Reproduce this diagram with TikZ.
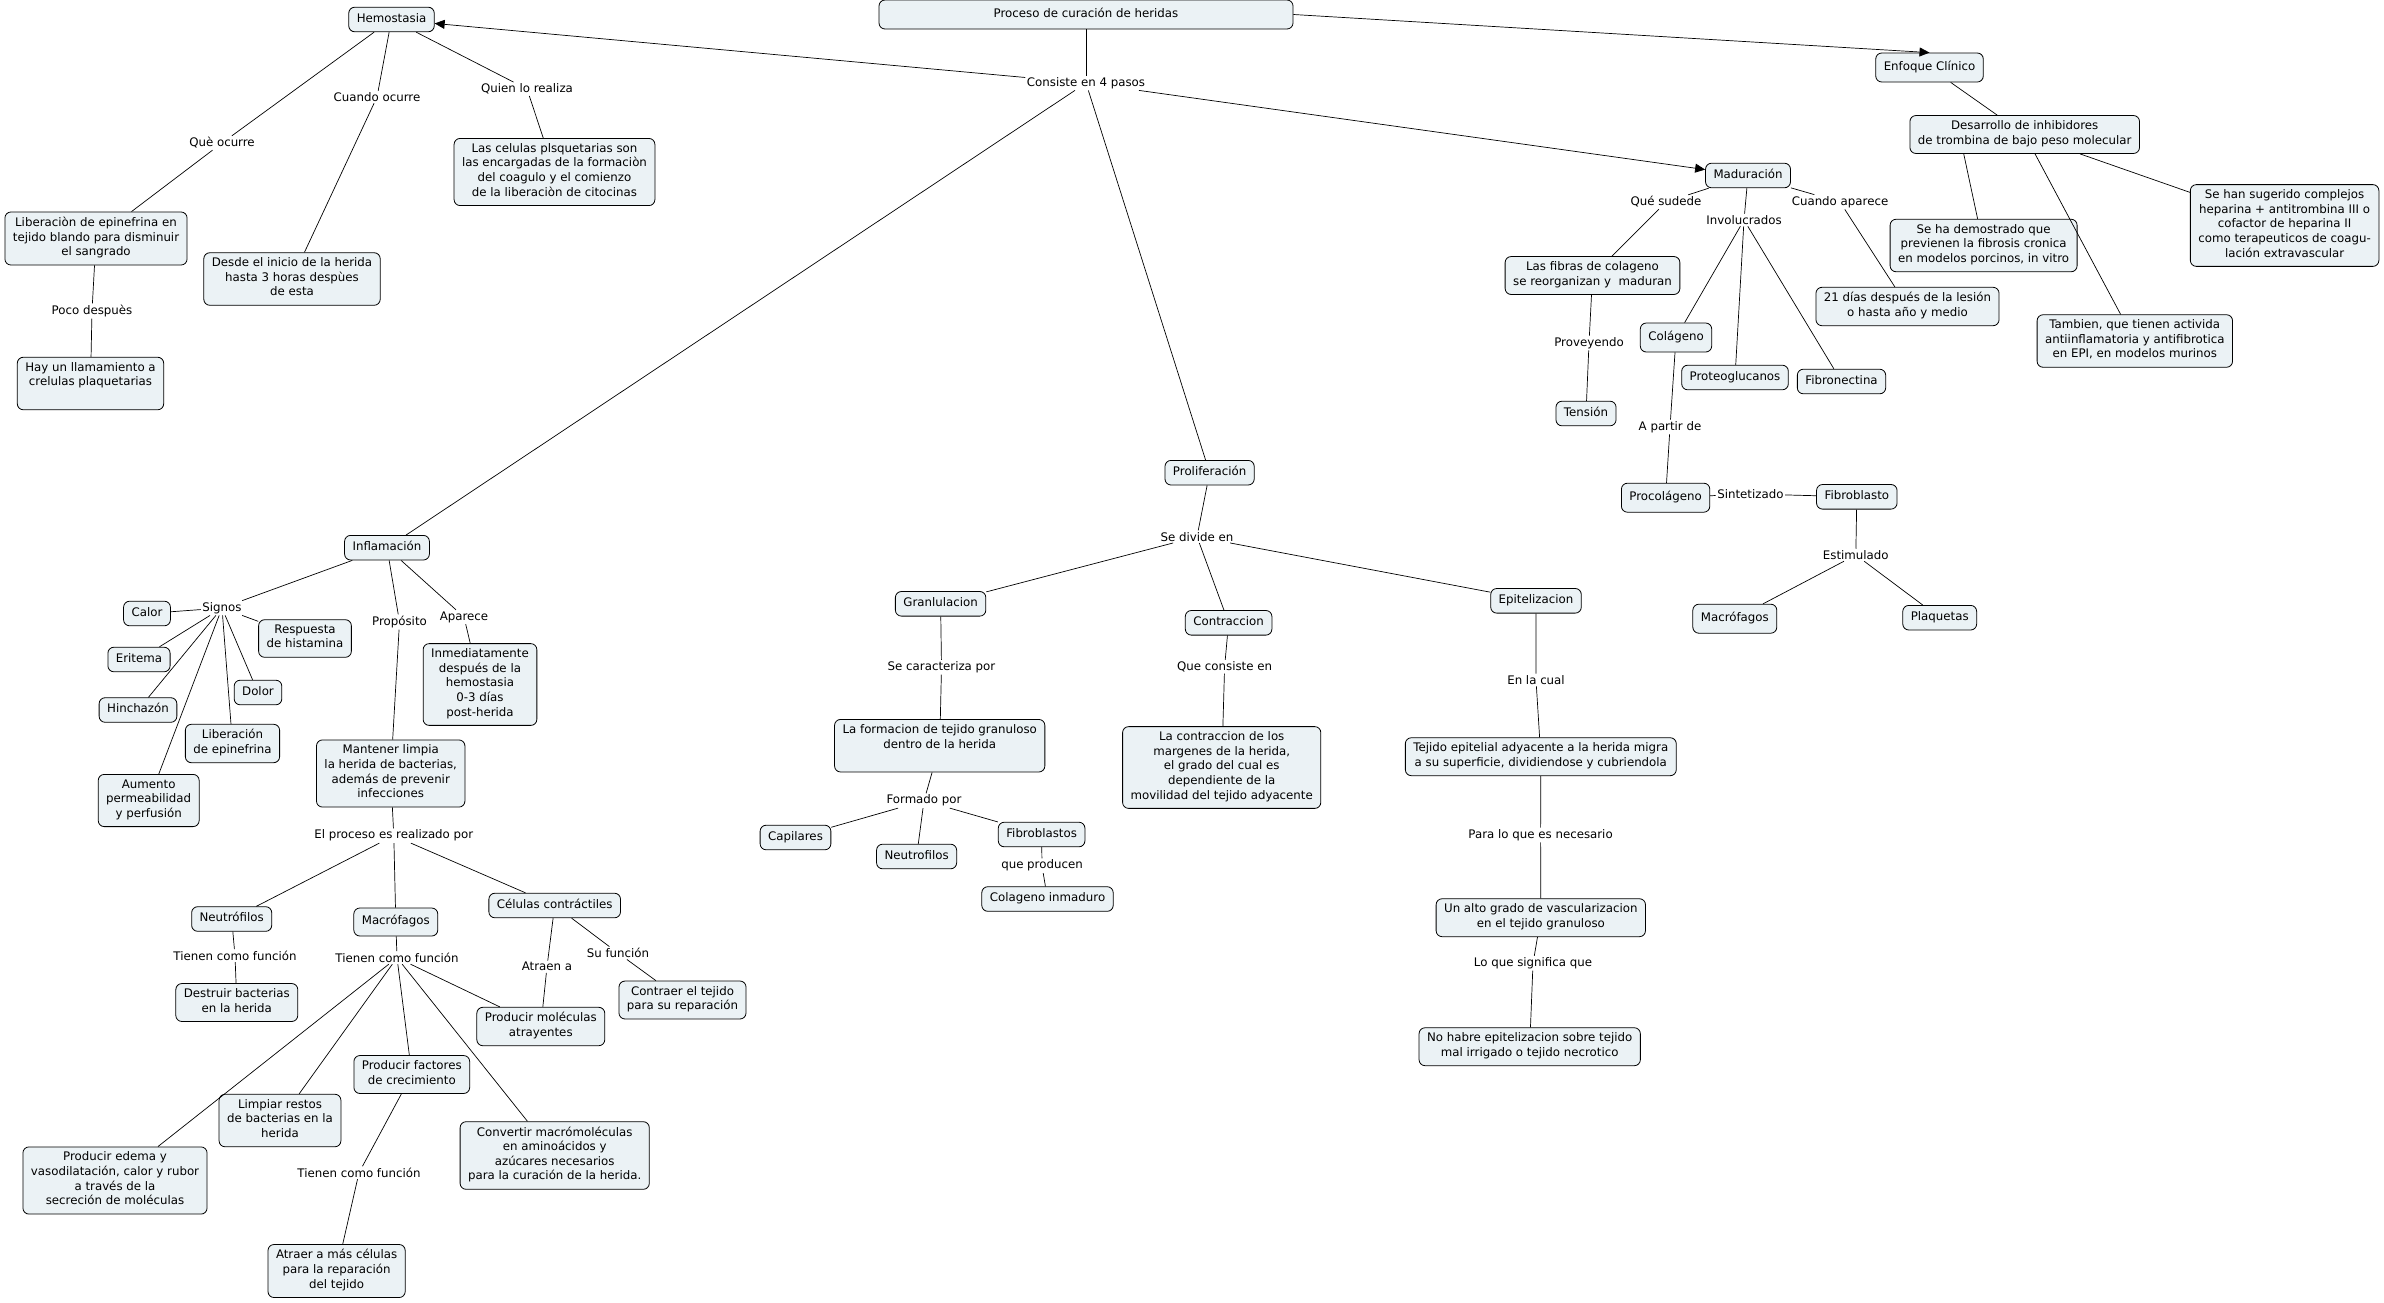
\documentclass[tikz,border=0pt]{standalone}
\usepackage{fontspec}
\setmainfont{DejaVu Sans}
\usetikzlibrary{arrows.meta}
\definecolor{conceptfill}{RGB}{235,242,245}

\begin{document}
\begin{tikzpicture}[x=1pt,y=-1pt,
  every node/.style={font=\fontsize{11.8pt}{14.6pt}\selectfont, align=center},
  concept/.style={draw, line width=0.8pt, rounded corners=6pt, fill=conceptfill,
    inner xsep=8pt, inner ysep=5pt, execute at begin node=\strut, execute at end node=\strut},
  link/.style={inner sep=1.5pt},
  conn/.style={line width=0.7pt},
  arr/.style={conn, -{Triangle[length=10pt,width=9pt]}}]
\useasboundingbox (0,0) rectangle (2384,1302);

\node[concept, minimum width=414pt, minimum height=29pt] (title) at (1086,14.5) {Proceso de curación de heridas};
\node[link] (consiste) at (1086,83) {Consiste en 4 pasos};

\node[concept] (hemo) at (391.5,19.5) {Hemostasia};
\node[link] (queocurre) at (222,143) {Què ocurre};
\node[link] (cuandoocurre) at (377,97) {Cuando ocurre};
\node[link] (quien) at (527,89) {Quien lo realiza};
\node[concept] (liberacion) at (96,238.5) {Liberaciòn de epinefrina en\\ tejido blando para disminuir\\ el sangrado};
\node[concept] (desde) at (292,279) {Desde el inicio de la herida\\ hasta 3 horas despùes\\ de esta};
\node[concept] (plaqcel) at (554.5,172) {Las celulas plsquetarias son\\ las encargadas de la formaciòn\\ del coagulo y el comienzo\\ de la liberaciòn de citocinas};
\node[link] (poco) at (92,311) {Poco despuès};
\node[concept] (hayun) at (90.5,383.5) {Hay un llamamiento a\\ crelulas plaquetarias\\};

\node[concept, minimum height=29pt] (enfoque) at (1929.5,67.5) {Enfoque Clínico};
\node[concept] (desarrollo) at (2024.7,134.5) {Desarrollo de inhibidores\\ de trombina de bajo peso molecular};
\node[concept] (sedemo) at (1983.6,245.5) {Se ha demostrado que\\ previenen la fibrosis cronica\\ en modelos porcinos, in vitro};
\node[concept] (tambien) at (2134.8,341) {Tambien, que tienen activida\\ antiinflamatoria y antifibrotica\\ en EPI, en modelos murinos};
\node[concept] (sugerido) at (2284.6,225.5) {Se han sugerido complejos\\ heparina + antitrombina III o\\ cofactor de heparina II\\ como terapeuticos de coagu-\\ lación extravascular};

\node[concept] (madur) at (1748,175.5) {Maduración};
\node[link] (quesudede) at (1666,202) {Qué sudede};
\node[link] (involuc) at (1744,220) {Involucrados};
\node[link] (cuandoap) at (1840,202) {Cuando aparece};
\node[concept] (fibras) at (1592.5,275.5) {Las fibras de colageno\\ se reorganizan y\ \ maduran};
\node[link] (proveyendo) at (1589,343) {Proveyendo};
\node[concept] (tension) at (1586,413.5) {Tensión};
\node[concept, minimum height=29pt] (colageno) at (1676,337.5) {Colágeno};
\node[concept] (proteo) at (1735,377.5) {Proteoglucanos};
\node[concept] (fibronect) at (1841.5,381.5) {Fibronectina};
\node[concept] (dias) at (1907.5,306.5) {21 días después de la lesión\\ o hasta año y medio};
\node[link] (apartir) at (1670,427) {A partir de};
\node[concept, minimum height=29pt] (procol) at (1665.6,497.7) {Procolágeno};
\node[link] (sintet) at (1750.4,494) {Sintetizado};
\node[concept] (fibroblasto) at (1856.8,496.8) {Fibroblasto};
\node[link] (estimulado) at (1855.8,555) {Estimulado};
\node[concept, minimum height=29pt] (macrob) at (1734.8,618.7) {Macrófagos};
\node[concept] (plaquetas) at (1939.7,617.7) {Plaquetas};

\node[concept] (prolif) at (1209.6,472.7) {Proliferación};
\node[link] (sedivide) at (1197,536.7) {Se divide en};
\node[concept] (granul) at (940.6,603.8) {Granlulacion};
\node[concept] (contrac) at (1228.6,622.8) {Contraccion};
\node[concept] (epitel) at (1536,600.8) {Epitelizacion};
\node[link] (secaract) at (941.5,667.3) {Se caracteriza por};
\node[link] (queconsiste) at (1224.6,666.7) {Que consiste en};
\node[link] (enlacual) at (1536,680) {En la cual};
\node[concept] (formacion) at (939.7,745.7) {La formacion de tejido granuloso\\ dentro de la herida\\};
\node[concept] (lacontrac) at (1221.7,767.5) {La contraccion de los\\ margenes de la herida,\\ el grado del cual es\\ dependiente de la\\ movilidad del tejido adyacente};
\node[concept] (tejido) at (1540.8,756.7) {Tejido epitelial adyacente a la herida migra\\ a su superficie, dividiendose y cubriendola};
\node[link] (formado) at (924,800.7) {Formado por};
\node[concept] (capilares) at (795.5,837.5) {Capilares};
\node[concept] (neutrob) at (916.6,856.5) {Neutrofilos};
\node[concept] (fibroblastos) at (1041.6,834.5) {Fibroblastos};
\node[link] (producen) at (1042,865.7) {que producen};
\node[concept] (inmaduro) at (1047.5,899) {Colageno inmaduro};
\node[link] (paraloque) at (1540.6,835) {Para lo que es necesario};
\node[concept] (altogrado) at (1540.8,917.7) {Un alto grado de vascularizacion\\ en el tejido granuloso};
\node[link] (significa) at (1533,963.3) {Lo que significa que};
\node[concept] (nohabre) at (1529.7,1046.7) {No habre epitelizacion sobre tejido\\ mal irrigado o tejido necrotico};

\node[concept] (infla) at (387,547.7) {Inflamación};
\node[link] (signos) at (222,608) {Signos};
\node[link] (proposito) at (399.5,622) {Propósito};
\node[link] (aparece) at (464,617) {Aparece};
\node[concept] (calor) at (147,613.5) {Calor};
\node[concept] (respuesta) at (305,638.5) {Respuesta\\ de histamina};
\node[concept] (eritema) at (139,659.5) {Eritema};
\node[concept] (dolor) at (258,692.5) {Dolor};
\node[concept] (hinchazon) at (138,710) {Hinchazón};
\node[concept] (libepi) at (232.5,743.5) {Liberación\\ de epinefrina};
\node[concept] (aumento) at (148.7,800.5) {Aumento\\ permeabilidad\\ y perfusión};
\node[concept] (inmediat) at (480,684.5) {Inmediatamente\\ después de la\\ hemostasia\\ 0-3 días\\ post-herida};
\node[concept] (mantener) at (390.7,773.5) {Mantener limpia\\ la herida de bacterias,\\ además de prevenir\\ infecciones};
\node[link] (proceso) at (393.8,835.7) {El proceso es realizado por};
\node[concept] (neutro) at (231.7,919) {Neutrófilos};
\node[concept, minimum height=28pt] (macro) at (395.8,922) {Macrófagos};
\node[concept] (contractiles) at (554.7,905.5) {Células contráctiles};
\node[link] (tienenn) at (235,955.7) {Tienen como función};
\node[link] (tienenm) at (397,957.7) {Tienen como función};
\node[link] (atraen) at (547,966.7) {Atraen a};
\node[link] (sufuncion) at (618,953) {Su función};
\node[concept] (destruir) at (236.8,1002.5) {Destruir bacterias\\ en la herida};
\node[concept] (contraer) at (682.5,1000) {Contraer el tejido\\ para su reparación};
\node[concept] (moleculas) at (540.8,1026.5) {Producir moléculas\\ atrayentes};
\node[concept] (factores) at (411.8,1074.5) {Producir factores\\ de crecimiento};
\node[concept] (limpiar) at (280,1120.5) {Limpiar restos\\ de bacterias en la\\ herida};
\node[concept] (edema) at (115,1180.5) {Producir edema y\\ vasodilatación, calor y rubor\\ a través de la\\ secreción de moléculas};
\node[concept] (convertir) at (554.7,1155.5) {Convertir macrómoléculas\\ en aminoácidos y\\ azúcares necesarios\\ para la curación de la herida.};
\node[link] (tienenf) at (359,1172.7) {Tienen como función};
\node[concept] (atraer) at (336.6,1271) {Atraer a más células\\ para la reparación\\ del tejido};

\draw[conn] (title) -- (consiste);
\draw[arr] (consiste) -- (hemo);
\draw[arr] (consiste) -- (madur);
\draw[conn] (consiste) -- (infla);
\draw[conn] (consiste) -- (prolif);
\draw[arr] (title.east) -- (enfoque.north);

\draw[conn] (hemo) -- (queocurre) (queocurre) -- (liberacion);
\draw[conn] (hemo) -- (cuandoocurre) (cuandoocurre) -- (desde);
\draw[conn] (hemo) -- (quien) (quien) -- (plaqcel);
\draw[conn] (liberacion) -- (poco) (poco) -- (hayun);

\draw[conn] (enfoque) -- (desarrollo);
\draw[conn] ([xshift=-61pt]desarrollo.south) -- ([xshift=-6pt]sedemo.north);
\draw[conn] (desarrollo) -- (tambien);
\draw[conn] (desarrollo) -- (sugerido);

\draw[conn] (madur) -- (quesudede) (quesudede) -- (fibras);
\draw[conn] (fibras) -- (proveyendo) (proveyendo) -- (tension);
\draw[conn] (madur) -- (involuc);
\draw[conn] (involuc) -- (colageno) (involuc) -- (proteo) (involuc) -- (fibronect);
\draw[conn] (madur) -- (cuandoap) (cuandoap) -- (dias);
\draw[conn] (colageno) -- (apartir) (apartir) -- (procol);
\draw[conn] (procol) -- (sintet) (sintet) -- (fibroblasto);
\draw[conn] (fibroblasto) -- (estimulado);
\draw[conn] (estimulado) -- (macrob) (estimulado) -- (plaquetas);

\draw[conn] (prolif) -- (sedivide);
\draw[conn] (sedivide) -- (granul) (sedivide) -- (contrac) (sedivide) -- (epitel);
\draw[conn] (granul) -- (secaract) (secaract) -- (formacion);
\draw[conn] (formacion) -- (formado);
\draw[conn] (formado) -- (capilares) (formado) -- (neutrob) (formado) -- (fibroblastos);
\draw[conn] (fibroblastos) -- (producen) (producen) -- (inmaduro);
\draw[conn] (contrac) -- (queconsiste) (queconsiste) -- (lacontrac);
\draw[conn] (epitel) -- (enlacual) (enlacual) -- (tejido);
\draw[conn] (tejido) -- (paraloque) (paraloque) -- (altogrado);
\draw[conn] (altogrado) -- (significa) (significa) -- (nohabre);

\draw[conn] (infla) -- (signos);
\draw[conn] (signos) -- (calor) (signos) -- (respuesta) (signos) -- (eritema) (signos) -- (dolor);
\draw[conn] (signos) -- (hinchazon) (signos) -- (libepi) (signos) -- (aumento);
\draw[conn] (infla) -- (proposito) (proposito) -- (mantener);
\draw[conn] (infla) -- (aparece) (aparece) -- (inmediat);
\draw[conn] (mantener) -- (proceso);
\draw[conn] (proceso) -- (neutro) (proceso) -- (macro) (proceso) -- (contractiles);
\draw[conn] (neutro) -- (tienenn) (tienenn) -- (destruir);
\draw[conn] (macro) -- (tienenm);
\draw[conn] (tienenm) -- (edema) (tienenm) -- (limpiar) (tienenm) -- (factores);
\draw[conn] (tienenm) -- (convertir) (tienenm) -- (moleculas);
\draw[conn] (factores) -- (tienenf) (tienenf) -- (atraer);
\draw[conn] (contractiles) -- (atraen) (atraen) -- (moleculas);
\draw[conn] (contractiles) -- (sufuncion) (sufuncion) -- (contraer);
\end{tikzpicture}
\end{document}
